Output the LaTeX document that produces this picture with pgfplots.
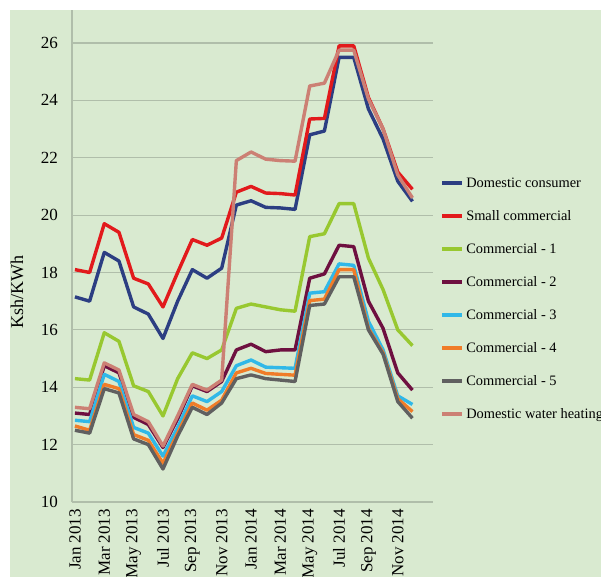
\documentclass[border=0pt]{standalone}
\usepackage{fontspec}
\setmainfont{Liberation Serif}
\usepackage{pgfplots}
\usepackage{pgfplotstable}
\pgfplotsset{compat=1.18}

\definecolor{bgc}{RGB}{217,234,208}
\definecolor{gridc}{RGB}{176,190,170}
\definecolor{cdom}{RGB}{44,62,130}
\definecolor{csmall}{RGB}{226,26,28}
\definecolor{cone}{RGB}{152,200,48}
\definecolor{ctwo}{RGB}{110,16,64}
\definecolor{cthree}{RGB}{48,184,232}
\definecolor{cfour}{RGB}{240,124,40}
\definecolor{cfive}{RGB}{96,96,96}
\definecolor{cdwh}{RGB}{204,128,116}

% month index 0 = Jan 2013 ... 23 = Dec 2014
\pgfplotstableread{
x  dom    small  cone   ctwo   cthree cfour  cfive  dwh
0  17.15  18.10  14.30  13.10  12.85  12.65  12.50  13.30
1  17.00  18.00  14.25  13.05  12.80  12.50  12.40  13.25
2  18.70  19.70  15.90  14.75  14.45  14.10  13.95  14.85
3  18.40  19.40  15.60  14.50  14.20  13.95  13.80  14.60
4  16.80  17.80  14.05  12.95  12.60  12.35  12.20  13.05
5  16.55  17.60  13.85  12.70  12.40  12.15  12.00  12.80
6  15.70  16.80  13.00  11.90  11.60  11.35  11.15  11.95
7  17.00  18.00  14.30  12.90  12.60  12.40  12.30  13.00
8  18.10  19.15  15.20  14.05  13.70  13.45  13.30  14.10
9  17.80  18.95  15.00  13.85  13.50  13.20  13.05  13.90
10 18.15  19.20  15.30  14.20  13.85  13.55  13.45  14.25
11 20.35  20.80  16.75  15.30  14.75  14.50  14.30  21.90
12 20.50  21.00  16.90  15.50  14.95  14.66  14.43  22.20
13 20.27  20.77  16.80  15.24  14.70  14.48  14.30  21.95
14 20.25  20.75  16.70  15.30  14.68  14.45  14.25  21.90
15 20.20  20.70  16.65  15.30  14.66  14.42  14.20  21.88
16 22.80  23.35  19.25  17.80  17.28  17.02  16.85  24.50
17 22.93  23.37  19.35  17.95  17.33  17.07  16.90  24.60
18 25.50  25.90  20.40  18.95  18.30  18.10  17.85  25.75
19 25.50  25.90  20.40  18.90  18.25  18.10  17.85  25.75
20 23.70  24.10  18.50  17.00  16.30  16.05  16.00  24.05
21 22.65  23.00  17.40  16.05  15.30  15.20  15.15  23.00
22 21.18  21.50  16.00  14.50  13.70  13.60  13.50  21.40
23 20.48  20.90  15.45  13.90  13.40  13.15  12.92  20.60
}\data

\begin{document}
\begin{tikzpicture}
% page background (scan tone)
\fill[white] (-36pt,-37.5pt) rectangle (264.5pt,251pt);
\fill[bgc] (-31pt,-37.5pt) rectangle (264.5pt,246pt);
\begin{axis}[
    scale only axis,
    width=180.5pt,
    height=246pt,
    xmin=-0.2, xmax=24.4,
    ymin=10, ymax=27.15,
    ytick={10,12,...,26},
    xtick={0,2,...,22},
    xticklabels={Jan 2013,Mar 2013,May 2013,Jul 2013,Sep 2013,Nov 2013,
                 Jan 2014,Mar 2014,May 2014,Jul 2014,Sep 2014,Nov 2014},
    xticklabel style={rotate=90, anchor=east, font=\fontsize{8.5}{10}\selectfont},
    yticklabel style={xshift=-3.5pt, font=\fontsize{8.5}{10}\selectfont},
    /pgf/number format/assume math mode=true,
    major tick length=0pt,
    axis lines=left,
    axis line style={-, draw=gridc, line width=0.7pt},
    ymajorgrids,
    grid style={draw=gridc, line width=0.6pt},
    ylabel={Ksh/KWh},
    every axis y label/.style={at={(axis description cs:0,0.427)},
        xshift=-27.5pt, rotate=90, anchor=center,
        font=\fontsize{9}{10}\selectfont},
    every axis plot/.append style={line width=1.7pt, line join=round},
    legend image code/.code={\draw[#1, line width=2pt] (0pt,0pt) -- (10pt,0pt);},
    legend cell align=left,
    legend style={at={(1.019,0.4146)}, anchor=west, draw=none, fill=none,
        inner sep=0pt, row sep=7pt,
        font=\fontsize{7.2}{9}\selectfont,
        nodes={inner sep=1pt, text height=6pt, text depth=1.5pt}},
]
\addplot[cdom]   table[x=x,y=dom]{\data};
\addplot[csmall] table[x=x,y=small]{\data};
\addplot[cone]   table[x=x,y=cone]{\data};
\addplot[ctwo]   table[x=x,y=ctwo]{\data};
\addplot[cthree] table[x=x,y=cthree]{\data};
\addplot[cfour]  table[x=x,y=cfour]{\data};
\addplot[cfive]  table[x=x,y=cfive]{\data};
\addplot[cdwh]   table[x=x,y=dwh]{\data};
\legend{Domestic consumer,Small commercial,Commercial - 1,Commercial - 2,
        Commercial - 3,Commercial - 4,Commercial - 5,Domestic water heating}
\end{axis}
\pgfresetboundingbox
\useasboundingbox (-36pt,-37.5pt) rectangle (264.5pt,251pt);
\end{tikzpicture}
\end{document}
